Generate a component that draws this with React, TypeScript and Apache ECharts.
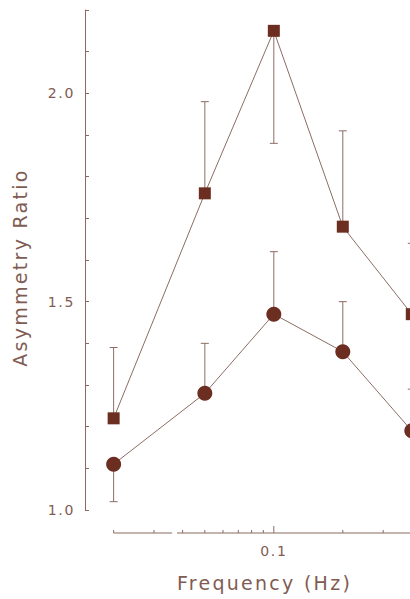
import React, { useEffect, useRef } from 'react';
import * as echarts from 'echarts';

// ---- data ----
const frequencies = [0.02, 0.05, 0.1, 0.2, 0.4];
const squareValues = [1.22, 1.76, 2.15, 1.68, 1.47];
const squareErrorEnds = [1.39, 1.98, 1.88, 1.91, 1.64];
const circleValues = [1.11, 1.28, 1.47, 1.38, 1.19];
const circleErrorEnds = [1.02, 1.4, 1.62, 1.5, 1.29];

const xTickValues = [0.02, 0.03, 0.04, 0.05, 0.06, 0.07, 0.08, 0.09, 0.1, 0.2, 0.3, 0.4];
const xMajorTickValues = [0.1];
const xLabelValues = [0.1];
const xAxisSegments = [
  [0.02, 0.036],
  [0.0378, 0.5],
];
const yLabelValues = [1.0, 1.5, 2.0];
const xRange = [0.015, 0.5];
const yRange = [1.0, 2.2];
const xName = 'Frequency (Hz)';
const yName = 'Asymmetry Ratio';

// ---- styles ----
const MARKER = '#6b2e20';
const LINE = '#8c6d65';
const AXIS = '#8a6a62';
const TEXT = '#7f5c53';
const FONT = 'DejaVu Sans';
const X_AXIS_OFFSET = 23;

const near = (a: number, b: number) => Math.abs(a / b - 1) < 1e-6;

export default function App() {
  const ref = useRef<HTMLDivElement>(null);

  useEffect(() => {
    if (!ref.current) return;
    const chart = echarts.init(ref.current, undefined, { renderer: 'svg' });

    const errorData = (vals: number[], ends: number[]) =>
      frequencies.map((f, i) => [f, vals[i], ends[i]]);

    const errorRender = (params: any, api: any) => {
      const x = api.value(0);
      const p0 = api.coord([x, api.value(1)]);
      const p1 = api.coord([x, api.value(2)]);
      const style = { stroke: LINE, lineWidth: 1 };
      return {
        type: 'group',
        children: [
          { type: 'line', shape: { x1: p0[0], y1: p0[1], x2: p1[0], y2: p1[1] }, style },
          { type: 'line', shape: { x1: p1[0] - 4, y1: p1[1], x2: p1[0] + 4, y2: p1[1] }, style },
        ],
      };
    };

    chart.setOption({
      animation: false,
      grid: { left: 85, top: 10, width: 349, height: 500, outerBoundsMode: 'none', containLabel: false },
      xAxis: {
        type: 'log',
        logBase: 10,
        min: xRange[0],
        max: xRange[1],
        offset: X_AXIS_OFFSET,
        axisLine: { show: false },
        axisTick: { show: false },
        minorTick: { show: false },
        splitLine: { show: false },
        axisLabel: {
          margin: 11,
          color: TEXT,
          fontSize: 14,
          fontFamily: FONT,
          formatter: (v: number) => (xLabelValues.some((t) => near(v, t)) ? String(xLabelValues.find((t) => near(v, t))) : ''),
        },
        name: xName,
        nameLocation: 'middle',
        nameGap: 40,
        nameTextStyle: { color: TEXT, fontSize: 19, fontFamily: FONT, padding: [0, 0, 0, 10] },
      },
      yAxis: {
        type: 'value',
        min: yRange[0],
        max: yRange[1],
        interval: 0.1,
        axisLine: { show: true, lineStyle: { color: AXIS, width: 1 } },
        axisTick: { show: true, inside: true, length: 4, lineStyle: { color: AXIS } },
        splitLine: { show: false },
        axisLabel: {
          margin: 10,
          color: TEXT,
          fontSize: 14,
          fontFamily: FONT,
          formatter: (v: number) => (yLabelValues.some((t) => Math.abs(v - t) < 1e-6) ? v.toFixed(1) : ''),
        },
        name: yName,
        nameLocation: 'middle',
        nameGap: 56,
        nameRotate: 90,
        nameTextStyle: { color: TEXT, fontSize: 19, fontFamily: FONT, padding: [0, 15, 0, 0] },
      },
      series: [
        {
          type: 'custom',
          name: 'x-axis line',
          silent: true,
          clip: false,
          z: 1,
          data: xAxisSegments.map((s) => [s[0], yRange[0], s[1]]),
          encode: { x: 0, y: 1 },
          renderItem: (params: any, api: any) => {
            const a = api.coord([api.value(0), api.value(1)]);
            const b = api.coord([api.value(2), api.value(1)]);
            const y = a[1] + X_AXIS_OFFSET;
            return {
              type: 'line',
              shape: { x1: a[0], y1: y, x2: b[0], y2: y },
              style: { stroke: AXIS, lineWidth: 1 },
            };
          },
        },
        {
          type: 'custom',
          name: 'x-axis ticks',
          silent: true,
          clip: false,
          z: 1,
          data: xTickValues.map((t) => [t, yRange[0], xMajorTickValues.some((m) => near(m, t)) ? 1 : 0]),
          encode: { x: 0, y: 1 },
          renderItem: (params: any, api: any) => {
            const p = api.coord([api.value(0), api.value(1)]);
            const y = p[1] + X_AXIS_OFFSET;
            const len = api.value(2) ? 7 : 3;
            return {
              type: 'line',
              shape: { x1: p[0], y1: y, x2: p[0], y2: y - len },
              style: { stroke: AXIS, lineWidth: 1 },
            };
          },
        },
        {
          type: 'custom',
          name: 'square errors',
          silent: true,
          clip: false,
          z: 2,
          data: errorData(squareValues, squareErrorEnds),
          encode: { x: 0, y: 1 },
          renderItem: errorRender,
        },
        {
          type: 'custom',
          name: 'circle errors',
          silent: true,
          clip: false,
          z: 2,
          data: errorData(circleValues, circleErrorEnds),
          encode: { x: 0, y: 1 },
          renderItem: errorRender,
        },
        {
          type: 'line',
          name: 'squares',
          data: frequencies.map((f, i) => [f, squareValues[i]]),
          symbol: 'rect',
          symbolSize: 12,
          clip: false,
          z: 3,
          itemStyle: { color: MARKER, borderWidth: 0 },
          lineStyle: { color: LINE, width: 1 },
        },
        {
          type: 'line',
          name: 'circles',
          data: frequencies.map((f, i) => [f, circleValues[i]]),
          symbol: 'circle',
          symbolSize: 15,
          clip: false,
          z: 3,
          itemStyle: { color: MARKER, borderWidth: 0 },
          lineStyle: { color: LINE, width: 1 },
        },
      ],
    });

    return () => chart.dispose();
  }, []);

  return (
    <>
      <style>{'.chart-root text{letter-spacing:0.12em}'}</style>
      <div
        ref={ref}
        className="chart-root"
        style={{ position: 'fixed', left: 0, top: 0, width: 410, height: 599, background: '#fff' }}
      />
    </>
  );
}
